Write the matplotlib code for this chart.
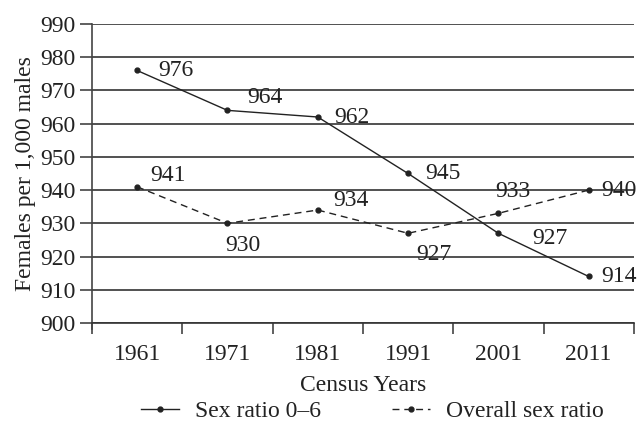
import matplotlib
matplotlib.use('Agg')
import matplotlib.pyplot as plt
from matplotlib.ticker import FixedLocator, MultipleLocator

plt.rcParams['font.family'] = ['Liberation Serif', 'DejaVu Serif']

years = ['1961', '1971', '1981', '1991', '2001', '2011']
child_ratio = [976, 964, 962, 945, 927, 914]
overall_ratio = [941, 930, 934, 927, 933, 940]

# ラベル位置のずらし (pixel)
child_offsets = [(21, 0), (20, 13), (17, 0), (17, 0), (34, -5), (13, 0)]
overall_offsets = [(13, 11), (-2, -22), (16, 10), (8, -21), (-3, 22), (13, 0)]

COL = '#222222'
FS = 17

fig = plt.figure(figsize=(6.37, 4.26), dpi=100)
ax = fig.add_axes([0.1444, 0.2418, 0.8506, 0.7019])

x = list(range(len(years)))
l1, = ax.plot(x, child_ratio, color=COL, lw=1.0, marker='o', ms=3.5, label='Sex ratio 0\u20136')
l2, = ax.plot(x, overall_ratio, color=COL, lw=1.0, ls=(0, (5, 3.5)), marker='o', ms=3.5,
              label='Overall sex ratio')

for i, v in enumerate(child_ratio):
    ax.annotate(str(v), (i, v), xytext=child_offsets[i], textcoords='offset pixels',
                ha='left', va='center', fontsize=FS, color=COL)
for i, v in enumerate(overall_ratio):
    ax.annotate(str(v), (i, v), xytext=overall_offsets[i], textcoords='offset pixels',
                ha='left', va='center', fontsize=FS, color=COL)

ax.set_xlim(-0.5, 5.5)
ax.set_ylim(900, 990)
ax.yaxis.set_major_locator(MultipleLocator(10))
ax.set_xticks(x)
ax.set_xticklabels(years)
ax.xaxis.set_minor_locator(FixedLocator([i - 0.5 for i in range(7)]))
ax.tick_params(axis='x', which='major', length=0, pad=15, labelsize=FS, colors=COL)
ax.tick_params(axis='x', which='minor', length=8, width=1.2, color='#444444')
ax.tick_params(axis='y', length=9, width=1.2, labelsize=FS, color='#444444', labelcolor=COL, pad=3)

ax.grid(axis='y', color='#333333', lw=1.2)
for s in ['top', 'right']:
    ax.spines[s].set_visible(False)
ax.spines['left'].set_color('#444444')
ax.spines['bottom'].set_color('#333333')
ax.spines['left'].set_linewidth(1.2)
ax.spines['bottom'].set_linewidth(1.2)
ax.spines['left'].set_bounds(898.3, 990)

ax.set_xlabel('Census Years', fontsize=FS, color=COL, labelpad=7)
ax.set_ylabel('Females per 1,000 males', fontsize=FS, color=COL, labelpad=3)

fig.legend(handles=[l1, l2], loc='center', bbox_to_anchor=(0.585, 0.035), ncol=2,
           frameon=False, fontsize=FS, handlelength=1.6, columnspacing=3.0,
           handletextpad=0.7, labelcolor=COL)

fig.savefig('out.png', dpi=100)
